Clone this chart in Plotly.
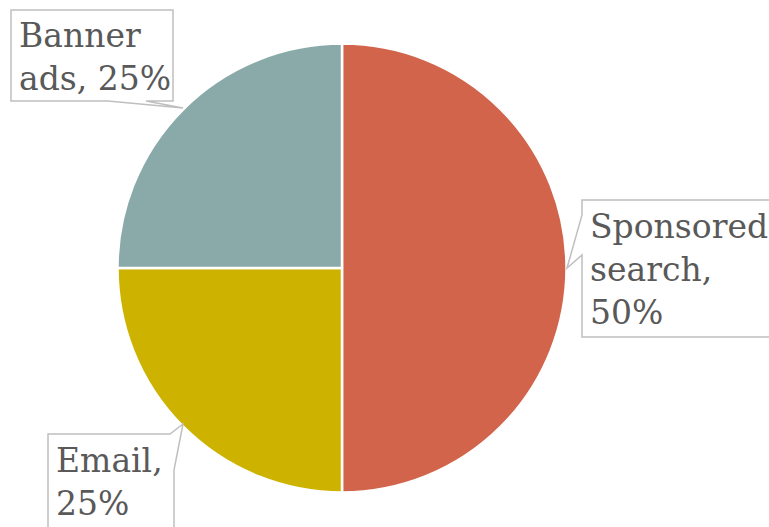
import plotly.graph_objects as go

labels = ["Sponsored search", "Email", "Banner ads"]
values = [50, 25, 25]
colors = ["#D1644A", "#CDB300", "#8AAAAA"]
label_texts = ["Sponsored<br>search,<br>50%", "Email,<br>25%", "Banner<br>ads, 25%"]

W, H = 769, 527

def px(x, y):
    return x / W, 1 - y / H

def path(pts):
    s = ""
    for i, (x, y) in enumerate(pts):
        xp, yp = px(x, y)
        s += ("M" if i == 0 else "L") + f"{xp:.5f},{yp:.5f} "
    return s + "Z"

fig = go.Figure(go.Pie(
    labels=labels, values=values, sort=False, direction="clockwise", rotation=0,
    marker=dict(colors=colors, line=dict(color="white", width=2.5)),
    textinfo="none", hoverinfo="label+percent", showlegend=False,
    domain=dict(x=[(342 - 224.5) / W, (342 + 224.5) / W],
                y=[1 - 492.5 / H, 1 - 43.5 / H]),
))

callouts = [
    [(582, 200), (780, 200), (780, 337), (582, 337), (582, 255), (567, 268), (582, 215)],
    [(48, 434), (170, 434), (183, 424), (174, 470), (174, 540), (48, 540)],
    [(11, 10), (173, 10), (173, 101), (146, 101), (183, 108), (108, 101), (11, 101)],
]
text_pos = [(588, 205), (54, 439), (17, 14)]

shapes = []
for pts in callouts:
    shapes.append(dict(type="path", xref="paper", yref="paper", path=path(pts),
                       fillcolor="white", line=dict(color="#BFBFBF", width=1.5), layer="above"))

annotations = []
for t, (x, y) in zip(label_texts, text_pos):
    xp, yp = px(x, y)
    annotations.append(dict(x=xp, y=yp, xref="paper", yref="paper", text=t, showarrow=False,
                            xanchor="left", yanchor="top", align="left",
                            font=dict(family="DejaVu Serif", size=33, color="#595959")))

fig.update_layout(width=W, height=H, margin=dict(l=0, r=0, t=0, b=0),
                  paper_bgcolor="white", plot_bgcolor="white",
                  shapes=shapes, annotations=annotations)
fig.write_html("out.html")
